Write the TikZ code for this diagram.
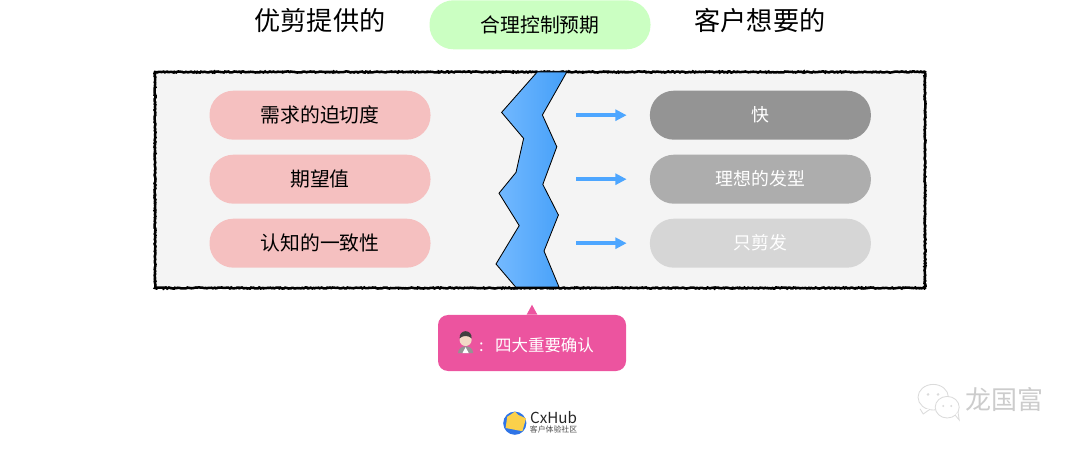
\documentclass[tikz,border=0pt]{standalone}
\usepackage{fontspec}
\usepackage{xcolor}
\setmainfont{Noto Sans CJK SC}
\usetikzlibrary{arrows.meta,decorations.pathmorphing}
\definecolor{pillpink}{HTML}{F5C0C0}
\definecolor{pillgreen}{HTML}{CBFFC2}
\definecolor{framegray}{HTML}{F4F4F4}
\definecolor{crackblue}{HTML}{4DA6FF}
\definecolor{crackdeep}{HTML}{449FF8}
\definecolor{notepink}{HTML}{EC549F}
\definecolor{logoblue}{HTML}{2F74E6}
\definecolor{logoyellow}{HTML}{FBD04B}
\definecolor{skintone}{HTML}{F3D9C6}
\tikzset{
  headlbl/.style   = {font=\fontsize{18.6}{22}\selectfont, text=black, inner sep=0pt},
  pillbase/.style  = {rectangle, rounded corners=0.6cm, minimum width=5.525cm,
                      minimum height=1.225cm, inner sep=0pt,
                      font=\fontsize{14.1}{17}\selectfont},
  pillneed/.style  = {pillbase, fill=pillpink, text=black},
  pilltop/.style   = {pillbase, fill=pillgreen, text=black},
  pillfast/.style  = {pillbase, fill=black!42, text=white, font=\fontsize{12.7}{15}\selectfont},
  pillideal/.style = {pillbase, fill=black!32, text=white, font=\fontsize{12.7}{15}\selectfont},
  pillcut/.style   = {pillbase, fill=black!16, text=white, font=\fontsize{12.7}{15}\selectfont},
  roughframe/.style = {rectangle, draw=black, fill=framegray, line width=1.8pt, inner sep=0pt,
                       minimum width=19.25cm, minimum height=5.4cm, decorate,
                       decoration={random steps, segment length=0.9pt, amplitude=0.4pt}},
  crack/.style     = {draw=black, line width=0.6pt, line join=miter,
                      left color=crackblue!78!white, right color=crackdeep},
  wantflow/.style  = {-{Triangle[length=8pt,width=7.8pt]}, draw=crackblue, line width=2.5pt},
  notebox/.style   = {rectangle, rounded corners=0.25cm, fill=notepink,
                      minimum width=4.7cm, minimum height=1.4cm, inner sep=0pt},
  notelbl/.style   = {font=\fontsize{11.7}{14}\selectfont, text=white, inner sep=0pt},
  marklbl/.style   = {text=black!20, inner sep=0pt, font=\fontsize{18.5}{22}\selectfont},
  markbubble/.style = {draw=black!14, fill=white, line width=0.6pt},
}

\begin{document}
\begin{tikzpicture}
  \useasboundingbox (0,0) rectangle (27,11.2);

  \node[headlbl] (offer) at (8,10.68)  {优剪提供的};
  \node[pilltop] (expect) at (13.5,10.58) {合理控制预期};
  \node[headlbl] (want)  at (19,10.68) {客户想要的};

  \node[roughframe] (frame) at (13.5,6.7) {};

  \node[pillneed] (urgent)  at (8,8.32) {需求的迫切度};
  \node[pillneed] (hope)    at (8,6.72) {期望值};
  \node[pillneed] (consist) at (8,5.12) {认知的一致性};

  \node[pillfast]  (fast)  at (19.01,8.32) {快};
  \node[pillideal] (ideal) at (19.01,6.72) {理想的发型};
  \node[pillcut]   (cut)   at (19.01,5.12) {只剪发};

  \draw[crack] (13.43,9.4) -- (12.54,8.39) -- (13.09,7.74) -- (12.9,6.89) -- (12.475,6.37)
    -- (12.98,5.56) -- (12.4,4.6) -- (12.89,4.025) -- (13.975,4.025) -- (13.6,4.925)
    -- (13.96,5.825) -- (13.57,6.59) -- (13.92,7.53) -- (13.56,8.325) -- (14.17,9.4) -- cycle;

  \coordinate (gapa) at (14.4,8.32);
  \coordinate (gapb) at (14.4,6.72);
  \coordinate (gapc) at (14.4,5.12);
  \draw[wantflow] (gapa) -- ([xshift=-0.575cm]fast.west);
  \draw[wantflow] (gapb) -- ([xshift=-0.575cm]ideal.west);
  \draw[wantflow] (gapc) -- ([xshift=-0.575cm]cut.west);

  \node[notebox] (note) at (13.3,2.625) {};
  \fill[notepink] ([xshift=-0.135cm]note.north) -- ([yshift=0.25cm]note.north)
    -- ([xshift=0.135cm]note.north) -- cycle;
  \node[notelbl, anchor=west] (notetext) at (11.97,2.575) {:\hspace{0.7em}四大重要确认};

  % little man in the note
  \fill[black!42] (11.45,2.37) .. controls (11.46,2.6) and (11.82,2.6) .. (11.83,2.37) -- cycle;
  \fill[white] (11.56,2.37) -- (11.64,2.52) -- (11.72,2.37) -- cycle;
  \fill[skintone] (11.64,2.7) circle (0.15);
  \fill[black!75] (11.49,2.74) .. controls (11.47,2.98) and (11.81,2.98) .. (11.79,2.74)
    .. controls (11.72,2.82) and (11.56,2.82) .. (11.49,2.74) -- cycle;

  % logo
  \fill[logoblue] (12.87,0.62) circle (0.29);
  \fill[logoyellow] (12.68,0.78) -- (12.875,0.91) -- (12.96,0.825) -- (13.15,0.74)
    -- (13.06,0.42) -- (12.64,0.5) -- cycle;
  \node[inner sep=0pt, font=\fontsize{10.8}{13}\selectfont, text=black!85] (hub) at (13.84,0.75) {CxHub};
  \node[inner sep=0pt, font=\fontsize{5.6}{7}\selectfont, text=black!70] (hubcn) at (13.84,0.475) {客户体验社区};

  % watermark
  \draw[markbubble] (23.33,1.27) ellipse (0.38 and 0.32);
  \draw[markbubble] (23.0,0.98) -- (23.08,0.85) -- (23.25,0.97);
  \draw[markbubble] (23.68,1.02) ellipse (0.3 and 0.27);
  \draw[markbubble] (23.88,0.82) -- (23.98,0.7) -- (23.95,0.9);
  \fill[black!14] (23.2,1.34) circle (0.035) (23.45,1.34) circle (0.035)
    (23.58,1.05) circle (0.03) (23.78,1.05) circle (0.03);
  \node[marklbl] (mark) at (25.1,1.2) {龙国富};
\end{tikzpicture}
\end{document}
